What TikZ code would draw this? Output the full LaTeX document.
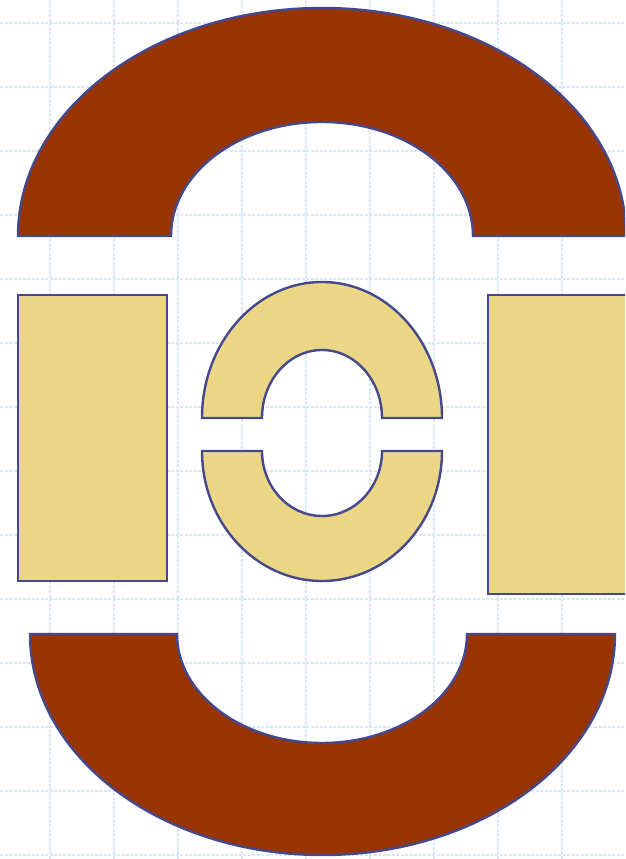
\documentclass[tikz,border=0pt]{standalone}
\usetikzlibrary{backgrounds}
\definecolor{brickred}{RGB}{153,51,0}
\definecolor{sand}{RGB}{235,214,134}
\definecolor{edgeblue}{RGB}{68,72,140}
\definecolor{gridblue}{RGB}{220,228,250}
\tikzset{
  gridline/.style={draw=gridblue, line width=1.5pt, dash pattern=on 3pt off 1.5pt},
  archshape/.style={fill=brickred, draw=edgeblue, line width=2.4pt},
  sandshape/.style={fill=sand, draw=edgeblue, line width=2.4pt},
}
\begin{document}
\begin{tikzpicture}[x=1pt,y=1pt]
\useasboundingbox (0,0) rectangle (625,859);
\clip (0,0) rectangle (625,859);
\fill[white] (0,0) rectangle (625,859);
% grid
\foreach \gx in {50,114,...,562} { \draw[gridline] (\gx,0) -- (\gx,859); }
\foreach \gy in {4,68,...,836} { \draw[gridline] (0,\gy) -- (625,\gy); }
% top arch
\path[archshape] (18,623) -- (171,623)
  arc[start angle=180,end angle=0,x radius=151,y radius=114]
  -- (626,623)
  arc[start angle=0,end angle=180,x radius=304,y radius=228] -- cycle;
% bottom arch
\path[archshape] (30,225) -- (177,225)
  arc[start angle=180,end angle=360,x radius=145,y radius=109]
  -- (615,225)
  arc[start angle=0,end angle=-180,x radius=292.5,y radius=221] -- cycle;
% side rectangles
\path[sandshape] (18,278) rectangle (167,564);
\path[sandshape] (488,265) rectangle (640,564);
% central ring, top half
\path[sandshape] (202,441) -- (262,441)
  arc[start angle=180,end angle=0,x radius=60,y radius=68]
  -- (442,441)
  arc[start angle=0,end angle=180,x radius=120,y radius=136] -- cycle;
% central ring, bottom half
\path[sandshape] (202,408) -- (262,408)
  arc[start angle=180,end angle=360,x radius=60,y radius=65]
  -- (442,408)
  arc[start angle=0,end angle=-180,x radius=120,y radius=130] -- cycle;
\end{tikzpicture}
\end{document}
